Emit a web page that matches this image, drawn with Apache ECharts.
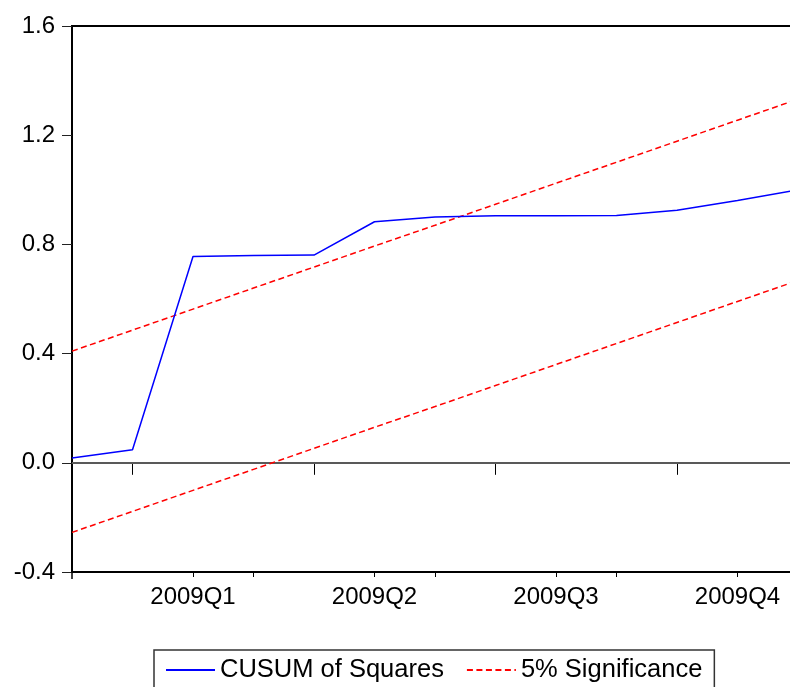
<!DOCTYPE html>
<html>
<head>
<meta charset="utf-8">
<script src="https://cdn.jsdelivr.net/npm/echarts@6/dist/echarts.min.js"></script>
<style>
  html, body { margin: 0; padding: 0; background: #fff; }
  #chart { width: 790px; height: 687px; }
</style>
</head>
<body>
<div id="chart"></div>
<script>
// Monthly observations, 2008M12 .. 2009M12
const months = ['2008M12', '2009M01', '2009M02', '2009M03', '2009M04', '2009M05', '2009M06',
                '2009M07', '2009M08', '2009M09', '2009M10', '2009M11', '2009M12'];

// CUSUM of squares statistic
const cusumSq = [0.018, 0.048, 0.756, 0.759, 0.761, 0.883, 0.900, 0.905, 0.905, 0.906, 0.925, 0.961, 1.000];

// 5% significance bounds
const upperBound = [0.409, 0.486, 0.563, 0.640, 0.717, 0.794, 0.870, 0.947, 1.024, 1.101, 1.178, 1.255, 1.332];
const lowerBound = [-0.255, -0.178, -0.101, -0.024, 0.053, 0.130, 0.206, 0.283, 0.360, 0.437, 0.514, 0.591, 0.668];

// Quarter labels, placed at the middle month of each quarter
const quarterLabels = { '2009M02': '2009Q1', '2009M05': '2009Q2', '2009M08': '2009Q3', '2009M11': '2009Q4' };
// Quarter start months get the long ticks
const quarterStarts = ['2009M01', '2009M04', '2009M07', '2009M10'];

const FONT = "'Liberation Sans', Arial, sans-serif";

const chart = echarts.init(document.getElementById('chart'), null, { renderer: 'canvas' });

const baseX = {
  type: 'category',
  data: months,
  boundaryGap: false,
  position: 'bottom',
  gridIndex: 0
};

chart.setOption({
  animation: false,
  backgroundColor: '#fff',
  grid: {
    left: 72, top: 26, width: 726, height: 546,
    outerBoundsMode: 'none',
    containLabel: false,
    show: true, borderColor: '#000', borderWidth: 2, backgroundColor: 'transparent'
  },
  xAxis: [
    Object.assign({}, baseX, {
      axisLine: { show: true, lineStyle: { color: '#000', width: 2 } },
      axisTick: {
        show: true, length: 12, lineStyle: { color: '#000', width: 1 },
        interval: (i, v) => quarterStarts.indexOf(v) >= 0
      },
      axisLabel: {
        show: true, margin: 13, fontSize: 24, fontFamily: FONT, color: '#000',
        interval: (i, v) => quarterLabels[v] !== undefined,
        formatter: v => quarterLabels[v] || ''
      },
      splitLine: { show: false }
    }),
    Object.assign({}, baseX, {
      axisLine: { show: false },
      axisTick: {
        show: true, length: 5, lineStyle: { color: '#000', width: 1 },
        interval: (i, v) => i > 0 && quarterStarts.indexOf(v) < 0
      },
      axisLabel: { show: false },
      splitLine: { show: false }
    }),
    Object.assign({}, baseX, {
      axisLine: { show: false },
      axisTick: {
        show: true, length: 7, lineStyle: { color: '#000', width: 1.5 },
        interval: (i) => i === 0
      },
      axisLabel: { show: false },
      splitLine: { show: false }
    })
  ],
  yAxis: {
    type: 'value',
    min: -0.4, max: 1.6, interval: 0.4,
    axisLine: { show: true, lineStyle: { color: '#000', width: 2 } },
    axisTick: { show: true, length: 10, lineStyle: { color: '#222', width: 1 } },
    axisLabel: {
      margin: 17, fontSize: 24, fontFamily: FONT, color: '#000',
      formatter: v => v.toFixed(1)
    },
    splitLine: { show: false }
  },
  legend: {
    left: 154, top: 650,
    orient: 'horizontal',
    itemWidth: 49, itemHeight: 14, itemGap: 22,
    itemStyle: { opacity: 0 },
    lineStyle: { opacity: 1 },
    padding: [7, 12, 20, 11],
    borderColor: '#333', borderWidth: 1.5,
    textStyle: { fontSize: 25.5, fontFamily: FONT, color: '#000' },
    data: ['CUSUM of Squares', '5% Significance']
  },
  series: [
    {
      name: 'CUSUM of Squares',
      type: 'line',
      data: cusumSq,
      symbol: 'none',
      lineStyle: { color: '#0000ff', width: 1.5 },
      itemStyle: { color: '#0000ff' },
      z: 3,
      markLine: {
        silent: true,
        symbol: 'none',
        label: { show: false },
        lineStyle: { color: '#777', width: 1.5, type: 'solid' },
        data: [{ yAxis: 0 }],
        z: 1
      }
    },
    {
      name: '5% Significance',
      type: 'line',
      data: upperBound,
      symbol: 'none',
      lineStyle: { color: '#ff0000', width: 1.5, type: [6, 3.5] },
      itemStyle: { color: '#ff0000' },
      z: 2
    },
    {
      name: '5% Significance',
      type: 'line',
      data: lowerBound,
      symbol: 'none',
      lineStyle: { color: '#ff0000', width: 1.5, type: [6, 3.5] },
      itemStyle: { color: '#ff0000' },
      z: 2
    }
  ]
});
</script>
</body>
</html>
